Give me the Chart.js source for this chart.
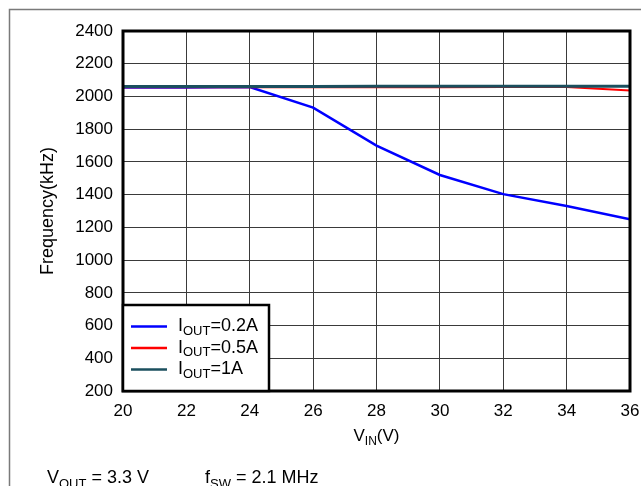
<!DOCTYPE html>
<html>
<head>
<meta charset="utf-8">
<script src="https://cdn.jsdelivr.net/npm/chart.js@4.4.0/dist/chart.umd.min.js"></script>
<style>
  html, body { margin: 0; padding: 0; background: #fff; }
  #wrap { width: 641px; height: 486px; position: relative; }
</style>
</head>
<body>
<div id="wrap"><canvas id="freqChart" width="641" height="486"></canvas></div>
<script>
// Data
const vinPoints = [20, 22, 24, 26, 28, 30, 32, 34, 36];
const freq02A = [2055, 2055, 2058, 1932, 1700, 1520, 1403, 1330, 1250];
const freq05A = [2056, 2056, 2056, 2057, 2057, 2057, 2058, 2058, 2037];
const freq1A = [2061, 2061, 2061, 2061, 2062, 2062, 2062, 2063, 2063];

const xTicks = [20, 22, 24, 26, 28, 30, 32, 34, 36];
const yTicks = [200, 400, 600, 800, 1000, 1200, 1400, 1600, 1800, 2000, 2200, 2400];

const seriesNames = [['I', 'OUT', '=0.2A'], ['I', 'OUT', '=0.5A'], ['I', 'OUT', '=1A']];
const seriesColors = ['#0000ff', '#ff0000', '#1b4f5e'];

const FONT = '"Liberation Sans", Arial, Helvetica, sans-serif';

function toPoints(ys) {
    return vinPoints.map((x, i) => ({ x: x, y: ys[i] }));
}

// text with subscript parts: [main, sub, main, ...]
function drawSubText(ctx, parts, x, y, size) {
    let cx = x;
    parts.forEach((p, i) => {
        const isSub = i % 2 === 1;
        ctx.font = (isSub ? Math.round(size * 0.72) : size) + 'px ' + FONT;
        ctx.fillText(p, cx, isSub ? y + size * 0.25 : y);
        cx += ctx.measureText(p).width;
    });
    return cx - x;
}

function measureSubText(ctx, parts, size) {
    let w = 0;
    parts.forEach((p, i) => {
        ctx.font = ((i % 2 === 1) ? Math.round(size * 0.72) : size) + 'px ' + FONT;
        w += ctx.measureText(p).width;
    });
    return w;
}

const decorPlugin = {
    id: 'decor',
    beforeDraw(chart) {
        const ctx = chart.ctx;
        ctx.save();
        ctx.fillStyle = '#fff';
        ctx.fillRect(0, 0, chart.width, chart.height);
        // outer gray frame
        ctx.strokeStyle = '#7a7a7a';
        ctx.lineWidth = 1.5;
        ctx.strokeRect(9.5, 9.5, chart.width + 20, chart.height + 20);
        ctx.restore();
    },
    afterDatasetsDraw(chart) {
        const ctx = chart.ctx;
        const a = chart.chartArea;
        ctx.save();
        // plot border
        ctx.strokeStyle = '#000';
        ctx.lineWidth = 3;
        ctx.strokeRect(a.left, a.top, a.right - a.left, a.bottom - a.top);

        // legend box
        const lx = a.left, ly = 305, lw = 269 - a.left, lh = a.bottom - ly;
        ctx.fillStyle = '#fff';
        ctx.fillRect(lx, ly, lw, lh);
        ctx.lineWidth = 2.5;
        ctx.strokeRect(lx, ly, lw, lh);
        const rows = [326.5, 348, 369.5];
        ctx.textBaseline = 'middle';
        ctx.textAlign = 'left';
        seriesNames.forEach((name, i) => {
            ctx.strokeStyle = seriesColors[i];
            ctx.lineWidth = 2.5;
            ctx.beginPath();
            ctx.moveTo(131, rows[i]);
            ctx.lineTo(167, rows[i]);
            ctx.stroke();
            ctx.fillStyle = '#000';
            drawSubText(ctx, name, 178, rows[i], 18);
        });

        // y axis title
        ctx.fillStyle = '#000';
        ctx.save();
        ctx.translate(48, (a.top + a.bottom) / 2);
        ctx.rotate(-Math.PI / 2);
        ctx.textAlign = 'center';
        ctx.textBaseline = 'middle';
        ctx.font = '18px ' + FONT;
        ctx.fillText('Frequency(kHz)', 0, 0);
        ctx.restore();

        // x axis title
        ctx.textAlign = 'left';
        ctx.textBaseline = 'alphabetic';
        const xt = ['V', 'IN', '(V)'];
        const xw = measureSubText(ctx, xt, 17);
        drawSubText(ctx, xt, (a.left + a.right) / 2 - xw / 2, 441, 17);

        // conditions caption
        drawSubText(ctx, ['V', 'OUT', ' = 3.3 V'], 47, 483, 18);
        drawSubText(ctx, ['f', 'SW', ' = 2.1 MHz'], 205, 483, 18);
        ctx.restore();
    }
};

const ctx = document.getElementById('freqChart').getContext('2d');
new Chart(ctx, {
    type: 'line',
    data: {
        datasets: [
            { label: 'IOUT=0.2A', data: toPoints(freq02A), borderColor: seriesColors[0], borderWidth: 2.5, order: 3 },
            { label: 'IOUT=0.5A', data: toPoints(freq05A), borderColor: seriesColors[1], borderWidth: 2, order: 2 },
            { label: 'IOUT=1A', data: toPoints(freq1A), borderColor: seriesColors[2], borderWidth: 3, order: 1 }
        ]
    },
    options: {
        responsive: false,
        animation: false,
        devicePixelRatio: 1,
        layout: { padding: { top: 31, right: 11, left: 0, bottom: 0 } },
        elements: { point: { radius: 0 }, line: { tension: 0, fill: false } },
        plugins: { legend: { display: false }, tooltip: { enabled: false } },
        scales: {
            x: {
                type: 'linear',
                min: 20,
                max: 36,
                afterFit(scale) {
                    scale.height = 95;
                    scale.paddingLeft = 0;
                    scale.paddingRight = 0;
                },
                afterBuildTicks(scale) { scale.ticks = xTicks.map(v => ({ value: v })); },
                ticks: { color: '#000', padding: 10, font: { family: FONT, size: 17 }, callback: v => String(v) },
                grid: { color: '#3a3a3a', lineWidth: 1, drawTicks: false },
                border: { display: false }
            },
            y: {
                min: 200,
                max: 2400,
                afterFit(scale) {
                    scale.width = 123;
                    scale.paddingTop = 0;
                    scale.paddingBottom = 0;
                },
                afterBuildTicks(scale) { scale.ticks = yTicks.map(v => ({ value: v })); },
                ticks: { color: '#000', padding: 10, font: { family: FONT, size: 17 }, callback: v => String(v) },
                grid: { color: '#3a3a3a', lineWidth: 1, drawTicks: false },
                border: { display: false }
            }
        }
    },
    plugins: [decorPlugin]
});
</script>
</body>
</html>
